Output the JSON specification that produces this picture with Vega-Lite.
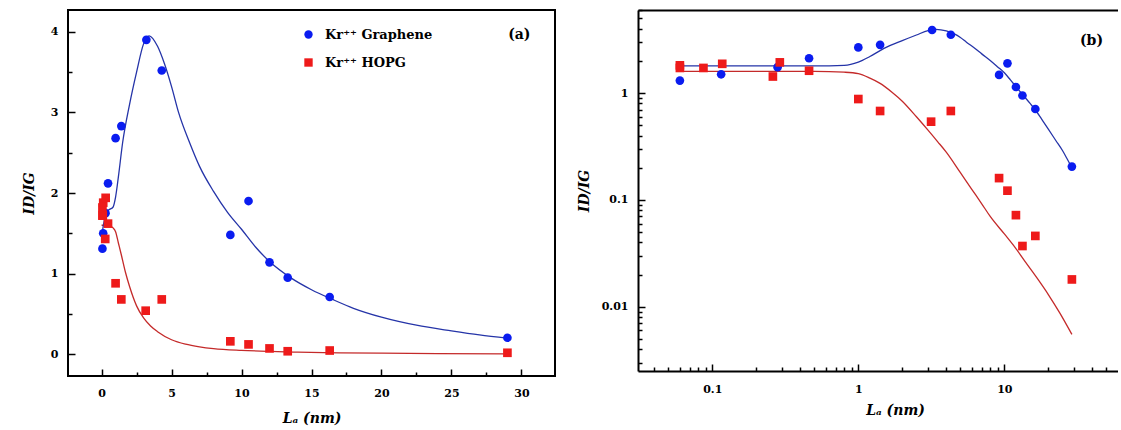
{
  "$schema": "https://vega.github.io/schema/vega-lite/v6.json",
  "background": "white",
  "padding": {"left": 21, "top": 9, "right": 0, "bottom": 0},
  "spacing": 21,
  "config": {
    "font": "DejaVu Serif",
    "view": {"stroke": "black", "strokeWidth": 2},
    "axis": {
      "labelFont": "DejaVu Serif", "labelFontWeight": "bold", "labelFontSize": 11, "labelColor": "black",
      "titleFont": "DejaVu Serif", "titleFontWeight": "bold", "titleFontStyle": "italic", "titleFontSize": 14, "titleColor": "black",
      "tickColor": "black", "tickWidth": 1.5, "grid": false, "domainColor": "black", "domainWidth": 2
    },
    "legend": {"labelFont": "DejaVu Serif", "labelFontWeight": "bold", "labelFontSize": 13, "labelColor": "black"}
  },
  "datasets": {
    "pts": [
      {"s": "Kr⁺⁺ Graphene", "x": 0.06, "y": 1.31},
      {"s": "Kr⁺⁺ Graphene", "x": 0.115, "y": 1.5},
      {"s": "Kr⁺⁺ Graphene", "x": 0.28, "y": 1.75},
      {"s": "Kr⁺⁺ Graphene", "x": 0.46, "y": 2.12},
      {"s": "Kr⁺⁺ Graphene", "x": 1.0, "y": 2.68},
      {"s": "Kr⁺⁺ Graphene", "x": 1.41, "y": 2.83},
      {"s": "Kr⁺⁺ Graphene", "x": 3.2, "y": 3.9},
      {"s": "Kr⁺⁺ Graphene", "x": 4.3, "y": 3.52},
      {"s": "Kr⁺⁺ Graphene", "x": 9.2, "y": 1.48},
      {"s": "Kr⁺⁺ Graphene", "x": 10.5, "y": 1.9},
      {"s": "Kr⁺⁺ Graphene", "x": 12.0, "y": 1.14},
      {"s": "Kr⁺⁺ Graphene", "x": 13.3, "y": 0.95},
      {"s": "Kr⁺⁺ Graphene", "x": 16.3, "y": 0.71},
      {"s": "Kr⁺⁺ Graphene", "x": 29, "y": 0.205},
      {"s": "Kr⁺⁺ HOPG", "x": 0.06, "y": 1.82},
      {"s": "Kr⁺⁺ HOPG", "x": 0.06, "y": 1.72},
      {"s": "Kr⁺⁺ HOPG", "x": 0.087, "y": 1.72},
      {"s": "Kr⁺⁺ HOPG", "x": 0.117, "y": 1.88},
      {"s": "Kr⁺⁺ HOPG", "x": 0.26, "y": 1.43},
      {"s": "Kr⁺⁺ HOPG", "x": 0.29, "y": 1.94},
      {"s": "Kr⁺⁺ HOPG", "x": 0.46, "y": 1.62},
      {"s": "Kr⁺⁺ HOPG", "x": 1.0, "y": 0.88},
      {"s": "Kr⁺⁺ HOPG", "x": 1.41, "y": 0.68},
      {"s": "Kr⁺⁺ HOPG", "x": 3.15, "y": 0.54},
      {"s": "Kr⁺⁺ HOPG", "x": 4.3, "y": 0.68},
      {"s": "Kr⁺⁺ HOPG", "x": 9.2, "y": 0.16},
      {"s": "Kr⁺⁺ HOPG", "x": 10.5, "y": 0.122},
      {"s": "Kr⁺⁺ HOPG", "x": 12.0, "y": 0.072},
      {"s": "Kr⁺⁺ HOPG", "x": 13.3, "y": 0.037},
      {"s": "Kr⁺⁺ HOPG", "x": 16.3, "y": 0.046},
      {"s": "Kr⁺⁺ HOPG", "x": 29, "y": 0.018}
    ],
    "crv": [
      {"s": "G", "p": "a", "x": 0, "y": 1.45},
      {"s": "G", "p": "a", "x": 0.15, "y": 1.62},
      {"s": "G", "p": "a", "x": 0.35, "y": 1.76},
      {"s": "G", "p": "a", "x": 0.6, "y": 1.8},
      {"s": "G", "p": "b", "x": 0.06, "y": 1.8},
      {"s": "G", "p": "b", "x": 0.2, "y": 1.8},
      {"s": "G", "p": "b", "x": 0.5, "y": 1.8},
      {"s": "G", "p": "ab", "x": 0.8, "y": 1.82},
      {"s": "G", "p": "ab", "x": 1.0, "y": 1.95},
      {"s": "G", "p": "ab", "x": 1.2, "y": 2.2},
      {"s": "G", "p": "ab", "x": 1.5, "y": 2.62},
      {"s": "G", "p": "ab", "x": 2.0, "y": 3.1},
      {"s": "G", "p": "ab", "x": 2.5, "y": 3.5},
      {"s": "G", "p": "ab", "x": 3.0, "y": 3.85},
      {"s": "G", "p": "ab", "x": 3.4, "y": 3.95},
      {"s": "G", "p": "ab", "x": 4.0, "y": 3.82},
      {"s": "G", "p": "ab", "x": 4.5, "y": 3.6},
      {"s": "G", "p": "ab", "x": 5.0, "y": 3.32},
      {"s": "G", "p": "ab", "x": 5.5, "y": 3.0},
      {"s": "G", "p": "ab", "x": 6.3, "y": 2.62},
      {"s": "G", "p": "ab", "x": 7.0, "y": 2.33},
      {"s": "G", "p": "ab", "x": 8.0, "y": 2.02},
      {"s": "G", "p": "ab", "x": 9.0, "y": 1.76},
      {"s": "G", "p": "ab", "x": 10.0, "y": 1.55},
      {"s": "G", "p": "ab", "x": 11.0, "y": 1.33},
      {"s": "G", "p": "ab", "x": 12.0, "y": 1.15},
      {"s": "G", "p": "ab", "x": 13.5, "y": 0.95},
      {"s": "G", "p": "ab", "x": 15.0, "y": 0.8},
      {"s": "G", "p": "ab", "x": 16.5, "y": 0.68},
      {"s": "G", "p": "ab", "x": 18.0, "y": 0.57},
      {"s": "G", "p": "ab", "x": 20.0, "y": 0.46},
      {"s": "G", "p": "ab", "x": 22.5, "y": 0.36},
      {"s": "G", "p": "ab", "x": 25.0, "y": 0.29},
      {"s": "G", "p": "ab", "x": 27.0, "y": 0.24},
      {"s": "G", "p": "ab", "x": 29.0, "y": 0.2},
      {"s": "H", "p": "a", "x": 0, "y": 1.6},
      {"s": "H", "p": "ab", "x": 0.06, "y": 1.6},
      {"s": "H", "p": "ab", "x": 0.2, "y": 1.6},
      {"s": "H", "p": "ab", "x": 0.5, "y": 1.6},
      {"s": "H", "p": "ab", "x": 0.8, "y": 1.57},
      {"s": "H", "p": "ab", "x": 1.0, "y": 1.52},
      {"s": "H", "p": "ab", "x": 1.2, "y": 1.38},
      {"s": "H", "p": "ab", "x": 1.4, "y": 1.24},
      {"s": "H", "p": "ab", "x": 1.7, "y": 1.02},
      {"s": "H", "p": "ab", "x": 2.0, "y": 0.84},
      {"s": "H", "p": "ab", "x": 2.5, "y": 0.6},
      {"s": "H", "p": "ab", "x": 3.0, "y": 0.45},
      {"s": "H", "p": "ab", "x": 3.5, "y": 0.35},
      {"s": "H", "p": "ab", "x": 4.0, "y": 0.28},
      {"s": "H", "p": "ab", "x": 5.0, "y": 0.18},
      {"s": "H", "p": "ab", "x": 6.0, "y": 0.125},
      {"s": "H", "p": "ab", "x": 7.0, "y": 0.092},
      {"s": "H", "p": "ab", "x": 8.0, "y": 0.07},
      {"s": "H", "p": "ab", "x": 10.0, "y": 0.048},
      {"s": "H", "p": "ab", "x": 12.0, "y": 0.035},
      {"s": "H", "p": "ab", "x": 14.0, "y": 0.026},
      {"s": "H", "p": "ab", "x": 17.0, "y": 0.018},
      {"s": "H", "p": "ab", "x": 20.0, "y": 0.013},
      {"s": "H", "p": "ab", "x": 24.0, "y": 0.0087},
      {"s": "H", "p": "ab", "x": 29.0, "y": 0.0055}
    ]
  },
  "hconcat": [
    {
      "width": 487,
      "height": 366,
      "encoding": {
        "x": {
          "field": "x", "type": "quantitative",
          "scale": {"domain": [-2.4, 32.4], "nice": false, "zero": false},
          "axis": {
            "values": [0, 2.5, 5, 7.5, 10, 12.5, 15, 17.5, 20, 22.5, 25, 27.5, 30],
            "format": "~g",
            "labelExpr": "datum.value % 5 === 0 ? datum.label : ''",
            "tickSize": {"condition": {"test": "datum.value % 5 === 0", "value": -7}, "value": -4},
            "labelPadding": 18, "domain": false, "title": "Lₐ (nm)", "titlePadding": 13
          }
        },
        "y": {
          "field": "y", "type": "quantitative",
          "scale": {"domain": [-0.27, 4.27], "nice": false, "zero": false},
          "axis": {
            "values": [0, 0.5, 1, 1.5, 2, 2.5, 3, 3.5, 4],
            "format": "~g",
            "labelExpr": "datum.value % 1 === 0 ? datum.label : ''",
            "tickSize": {"condition": {"test": "datum.value % 1 === 0", "value": -7}, "value": -4},
            "labelPadding": 17, "domain": false, "title": "ID/IG", "titlePadding": 14
          }
        }
      },
      "layer": [
        {
          "data": {"name": "crv"},
          "transform": [{"filter": "datum.s === 'H' && datum.p !== 'b'"}],
          "mark": {"type": "line", "color": "#c42a2a", "strokeWidth": 1.3, "interpolate": "monotone"}
        },
        {
          "data": {"name": "crv"},
          "transform": [{"filter": "datum.s === 'G' && datum.p !== 'b'"}],
          "mark": {"type": "line", "color": "#2534a8", "strokeWidth": 1.3, "interpolate": "monotone"}
        },
        {
          "data": {"name": "pts"},
          "mark": {"type": "point", "filled": true, "opacity": 1, "size": 75},
          "encoding": {
            "color": {
              "field": "s", "type": "nominal",
              "scale": {"domain": ["Kr⁺⁺ Graphene", "Kr⁺⁺ HOPG"], "range": ["#0a1cf0", "#ee1a1a"]},
              "legend": {"orient": "none", "legendX": 234, "legendY": 18, "title": null, "padding": 0, "rowPadding": 14, "labelOffset": 10, "symbolSize": 70}
            },
            "shape": {
              "field": "s", "type": "nominal",
              "scale": {"domain": ["Kr⁺⁺ Graphene", "Kr⁺⁺ HOPG"], "range": ["circle", "square"]},
              "legend": {"orient": "none", "legendX": 234, "legendY": 18, "title": null, "padding": 0, "rowPadding": 14, "labelOffset": 10, "symbolSize": 70}
            }
          }
        },
        {
          "data": {"values": [{"x": 29.85, "y": 3.96, "t": "(a)"}]},
          "mark": {"type": "text", "font": "DejaVu Serif", "fontWeight": "bold", "fontSize": 14, "color": "black"},
          "encoding": {"text": {"field": "t"}}
        }
      ]
    },
    {
      "width": 480,
      "height": 361,
      "view": {"stroke": null},
      "encoding": {
        "x": {"field": "x", "type": "quantitative", "scale": {"type": "log", "domain": [0.031, 60], "nice": false}, "axis": null},
        "y": {
          "field": "y", "type": "quantitative", "scale": {"type": "log", "domain": [0.0025, 6], "nice": false},
          "axis": {
            "values": [0.003, 0.004, 0.005, 0.006, 0.007, 0.008, 0.009, 0.01, 0.02, 0.03, 0.04, 0.05, 0.06, 0.07, 0.08, 0.09, 0.1, 0.2, 0.3, 0.4, 0.5, 0.6, 0.7, 0.8, 0.9, 1, 2, 3, 4, 5, 6],
            "format": "~g",
            "labelExpr": "(datum.value === 0.01 || datum.value === 0.1 || datum.value === 1) ? datum.label : ''",
            "tickSize": {"condition": {"test": "datum.value === 0.01 || datum.value === 0.1 || datum.value === 1", "value": -7}, "value": -4},
            "labelPadding": 17, "domain": true, "title": "ID/IG", "titlePadding": 10
          }
        }
      },
      "layer": [
        {
          "data": {"name": "crv"},
          "transform": [{"filter": "datum.s === 'H' && datum.p !== 'a'"}],
          "mark": {"type": "line", "color": "#c42a2a", "strokeWidth": 1.3, "interpolate": "monotone"},
          "encoding": {
            "x": {
              "field": "x", "type": "quantitative", "scale": {"type": "log", "domain": [0.031, 60], "nice": false},
              "axis": {
                "orient": "bottom",
                "values": [0.04, 0.05, 0.06, 0.07, 0.08, 0.09, 0.1, 0.2, 0.3, 0.4, 0.5, 0.6, 0.7, 0.8, 0.9, 1, 2, 3, 4, 5, 6, 7, 8, 9, 10, 20, 30, 40, 50],
                "format": "~g",
                "labelExpr": "(datum.value === 0.1 || datum.value === 1 || datum.value === 10) ? datum.label : ''",
                "tickSize": {"condition": {"test": "datum.value === 0.1 || datum.value === 1 || datum.value === 10", "value": -7}, "value": -4},
                "labelPadding": 19, "domain": true, "title": "Lₐ (nm)", "titlePadding": 9, "titleX": 257
              }
            }
          }
        },
        {
          "data": {"name": "crv"},
          "transform": [{"filter": "datum.s === 'G' && datum.p !== 'a'"}],
          "mark": {"type": "line", "color": "#2534a8", "strokeWidth": 1.3, "interpolate": "monotone"}
        },
        {
          "data": {"name": "pts"},
          "transform": [{"filter": "datum.s === 'Kr⁺⁺ Graphene'"}],
          "mark": {"type": "point", "filled": true, "opacity": 1, "size": 75, "shape": "circle", "color": "#0a1cf0"}
        },
        {
          "data": {"name": "pts"},
          "transform": [{"filter": "datum.s === 'Kr⁺⁺ HOPG'"}],
          "mark": {"type": "point", "filled": true, "opacity": 1, "size": 75, "shape": "square", "color": "#ee1a1a"}
        },
        {
          "data": {"values": [{"x": 39.5, "y": 3.1, "t": "(b)"}]},
          "mark": {"type": "text", "font": "DejaVu Serif", "fontWeight": "bold", "fontSize": 14, "color": "black"},
          "encoding": {
            "text": {"field": "t"},
            "x": {
              "field": "x", "type": "quantitative", "scale": {"type": "log", "domain": [0.031, 60], "nice": false},
              "axis": {"orient": "top", "labels": false, "ticks": false, "domain": true, "title": null}
            }
          }
        }
      ]
    }
  ]
}
